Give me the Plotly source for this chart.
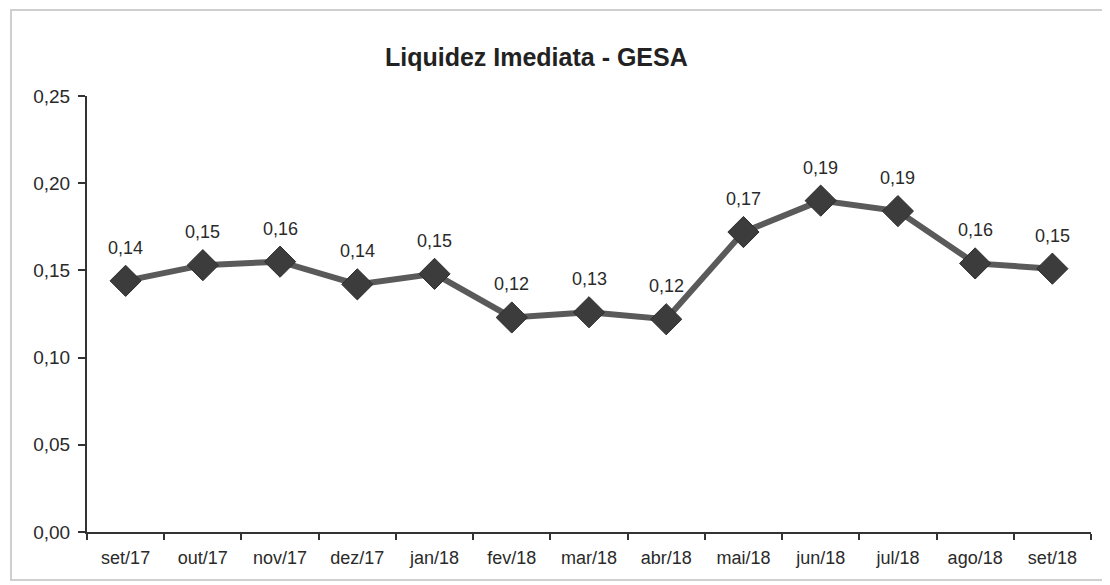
import plotly.graph_objects as go

# Monthly immediate liquidity index
months = ["set/17", "out/17", "nov/17", "dez/17", "jan/18", "fev/18", "mar/18",
          "abr/18", "mai/18", "jun/18", "jul/18", "ago/18", "set/18"]
liquidez = [0.144, 0.153, 0.155, 0.142, 0.148, 0.123, 0.126,
            0.122, 0.172, 0.190, 0.184, 0.154, 0.151]
rotulos = ["0,14", "0,15", "0,16", "0,14", "0,15", "0,12", "0,13",
           "0,12", "0,17", "0,19", "0,19", "0,16", "0,15"]
y_ticks = [0.00, 0.05, 0.10, 0.15, 0.20, 0.25]

font_name = "Liberation Sans, Arial, sans-serif"

fig = go.Figure()
fig.add_trace(go.Scatter(
    x=months,
    y=liquidez,
    mode="lines+markers",
    line=dict(color="#5a5a5a", width=6),
    marker=dict(symbol="diamond", size=24, color="#3c3c3c",
                line=dict(color="#2e2e2e", width=1)),
    showlegend=False,
))

# value labels sitting above each marker
for m, v, t in zip(months, liquidez, rotulos):
    fig.add_annotation(x=m, y=v, text=t, showarrow=False, yshift=33,
                       font=dict(family=font_name, size=18, color="#2a2a2a"))

fig.update_layout(
    width=1110,
    height=585,
    title=dict(text="<b>Liquidez Imediata - GESA</b>", x=0.476, xanchor="center",
               y=0.916, yanchor="middle",
               font=dict(family=font_name, size=25, color="#222222")),
    font=dict(family=font_name, size=18, color="#2a2a2a"),
    separators=",.",
    plot_bgcolor="white",
    paper_bgcolor="white",
    margin=dict(l=79, r=27, t=88, b=61),
    xaxis=dict(
        showgrid=False, showline=True, linecolor="#333333", linewidth=2,
        ticks="outside", tickson="boundaries", ticklen=6, tickcolor="#333333",
        tickwidth=2, range=[-0.5, 12.5], tickfont=dict(size=18),
        ticklabelstandoff=8,
    ),
    yaxis=dict(
        showgrid=False, showline=True, linecolor="#333333", linewidth=2,
        ticks="outside", ticklen=7, tickcolor="#333333", tickwidth=2,
        range=[0, 0.25], tickvals=y_ticks, tickformat=".2f",
        tickfont=dict(size=19), zeroline=False, ticklabelstandoff=4,
    ),
    shapes=[dict(type="rect", xref="paper", yref="paper",
                 x0=-0.0757, x1=1.03, y0=-0.11, y1=1.197,
                 line=dict(color="#cfcfcf", width=2))],
)

fig.write_html("out.html")
